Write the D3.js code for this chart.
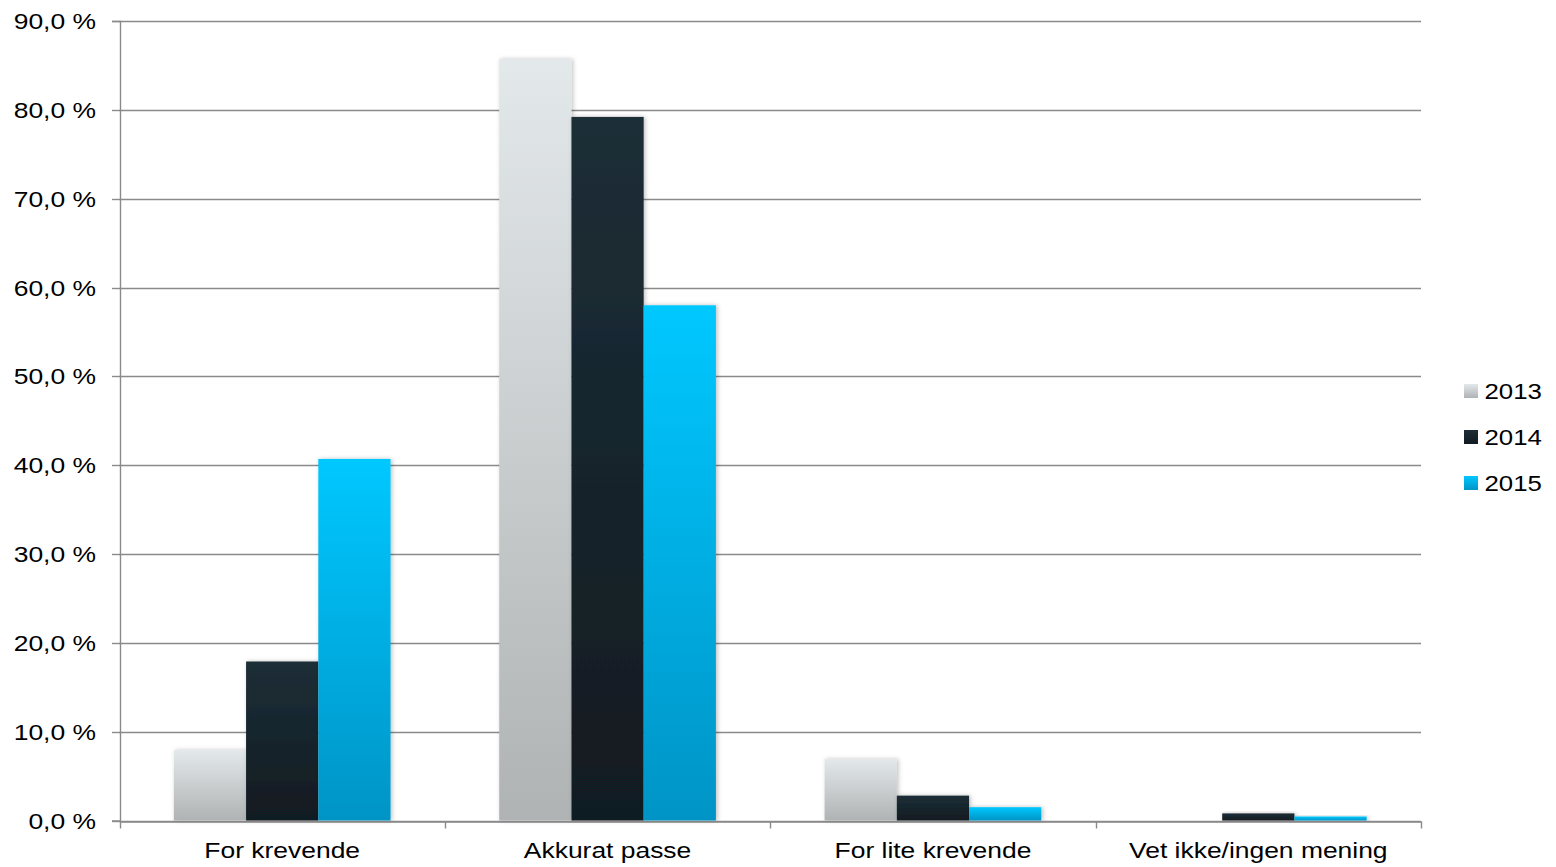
<!DOCTYPE html>
<html><head><meta charset="utf-8">
<script src="https://cdn.jsdelivr.net/npm/d3@7"></script>
<style>body{margin:0;background:#fff}svg{display:block}text{font-family:"Liberation Sans",Arial,sans-serif;fill:#000}</style>
</head><body>
<script>
const categories = ["For krevende","Akkurat passe","For lite krevende","Vet ikke/ingen mening"];
const years = ["2013","2014","2015"];
const values2013 = [7.9, 85.7, 6.9, 0];
const values2014 = [17.9, 79.2, 2.8, 0.8];
const values2015 = [40.7, 58.0, 1.5, 0.45];
const yTicks = [0,10,20,30,40,50,60,70,80,90];
const series = {"2013":values2013,"2014":values2014,"2015":values2015};
const grads = {"2013":["#e3e8eb","#afb3b3"],"2014":["#1d2e37","#111b21"],"2015":["#00c8ff","#0094c6"]};

const W=1556,H=867, L=119.5, R=1421, T=21, B=820.5;
const FS=21.5, SX=1.23;
const svg=d3.select("body").append("svg").attr("width",W).attr("height",H);
const defs=svg.append("defs");
years.forEach(y=>{
  const g=defs.append("linearGradient").attr("id","g"+y).attr("x1",0).attr("y1",0).attr("x2",0).attr("y2",1);
  g.append("stop").attr("offset","0%").attr("stop-color",grads[y][0]);
  g.append("stop").attr("offset","100%").attr("stop-color",grads[y][1]);
});
const f=defs.append("filter").attr("id","sh").attr("x","-20%").attr("y","-20%").attr("width","140%").attr("height","140%");
f.append("feDropShadow").attr("dx",1.5).attr("dy",0).attr("stdDeviation",2).attr("flood-color","#000").attr("flood-opacity",0.25);

const x=d3.scaleBand().domain(categories).range([L,R]).padding(0);
const gap=x.bandwidth()*0.167;
const x1=d3.scaleBand().domain(years).range([gap,x.bandwidth()-gap]).padding(0);
const y=d3.scaleLinear().domain([0,90]).range([B,T]);

// gridlines
svg.append("g").selectAll("line").data(yTicks).join("line")
  .attr("x1",L).attr("x2",R).attr("y1",d=>Math.round(y(d))+0.5).attr("y2",d=>Math.round(y(d))+0.5)
  .attr("stroke","#8a8a8a").attr("stroke-width",1.4);

// y axis
const ya=svg.append("g").attr("transform",`translate(${L+0.5},0)`)
  .call(d3.axisLeft(y).tickValues(yTicks).tickSize(8).tickFormat(d=>d3.format(".1f")(d).replace(".",",")+" %"));
ya.select(".domain").attr("stroke","#8a8a8a").attr("stroke-width",1.4);
ya.selectAll(".tick line").attr("stroke","#8a8a8a").attr("stroke-width",1.4);
ya.selectAll(".tick").attr("transform",d=>`translate(0,${Math.round(y(d))+0.5})`);
ya.selectAll("text").attr("font-size",FS).attr("font-family","Liberation Sans, Arial, sans-serif").attr("fill","#000")
  .attr("x",0).attr("dy","0.36em").attr("transform",`translate(-24,0) scale(${SX},1)`);

// bars
const gCat=svg.append("g").selectAll("g").data(categories).join("g").attr("transform",d=>`translate(${x(d)},0)`);
gCat.selectAll("rect").data((c,i)=>years.map(yr=>({yr,v:series[yr][i]}))).join("rect")
  .attr("x",d=>x1(d.yr)).attr("width",x1.bandwidth())
  .attr("y",d=>y(d.v)).attr("height",d=>B-y(d.v))
  .attr("fill",d=>`url(#g${d.yr})`).attr("filter","url(#sh)");

// x axis
const xa=svg.append("g").attr("transform",`translate(0,${Math.round(B)+0.5})`)
  .call(d3.axisBottom(x).tickSize(0));
xa.select(".domain").attr("stroke","#8a8a8a").attr("stroke-width",1.4);
xa.selectAll("text").attr("font-size",FS).attr("font-family","Liberation Sans, Arial, sans-serif").attr("fill","#000")
  .attr("y",0).attr("dy",0).attr("transform",`translate(0,36) scale(${SX},1)`);
const bounds=[L,...categories.map(c=>x(c)+x.bandwidth())];
xa.selectAll(".bt").data(bounds).join("line").attr("class","bt")
  .attr("x1",d=>Math.round(d)+0.5).attr("x2",d=>Math.round(d)+0.5).attr("y1",0).attr("y2",7)
  .attr("stroke","#8a8a8a").attr("stroke-width",1.4);

// legend
const lg=svg.append("g").attr("transform","translate(1464,0)");
const ly=[391,437,483];
years.forEach((yr,i)=>{
  lg.append("rect").attr("x",0).attr("y",ly[i]-7).attr("width",14).attr("height",14).attr("fill",`url(#g${yr})`);
  lg.append("text").attr("x",0).attr("y",ly[i]).attr("dy","0.36em").attr("font-size",FS)
    .attr("transform",`translate(20.5,0) scale(1.2,1)`).text(yr);
});
</script>
</body></html>
